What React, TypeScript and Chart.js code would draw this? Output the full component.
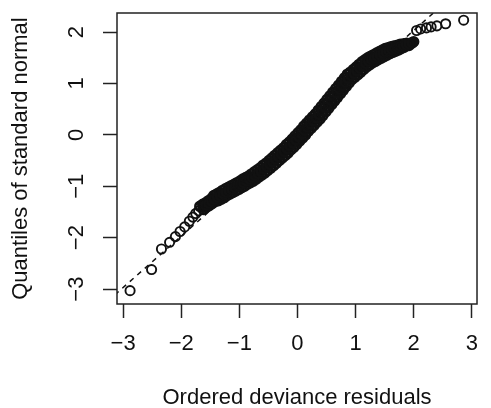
import React, { useEffect, useRef } from "react";
import { Chart, registerables } from "chart.js";

Chart.register(...registerables);

// ---- data ----
const xTickValues = [-3, -2, -1, 0, 1, 2, 3];
const yTickValues = [-3, -2, -1, 0, 1, 2];

const xTitle = "Ordered deviance residuals";
const yTitle = "Quantiles of standard normal";

// isolated circles in the lower tail
const lowerTailResiduals = [-2.88, -2.51, -2.34, -2.2, -2.1, -2.02, -1.94, -1.86, -1.8, -1.75, -1.7];
const lowerTailQuantiles = [-3.03, -2.62, -2.22, -2.09, -1.98, -1.88, -1.79, -1.68, -1.6, -1.53, -1.48];

// dense band of circles (upper-left and lower-right edges)
const bandResiduals = [
  -1.68, -1.62, -1.63, -1.57, -1.58, -1.52, -1.53, -1.47, -1.48, -1.42,
  -1.44, -1.36, -1.39, -1.31, -1.34, -1.26, -1.29, -1.21, -1.24, -1.16,
  -1.19, -1.11, -1.14, -1.06, -1.09, -1.01, -1.04, -0.96, -0.99, -0.91,
  -0.94, -0.86, -0.89, -0.81, -0.84, -0.76, -0.79, -0.71, -0.74, -0.66,
  -0.69, -0.61, -0.64, -0.56, -0.59, -0.51, -0.54, -0.46, -0.49, -0.41,
  -0.44, -0.36, -0.39, -0.31, -0.34, -0.26, -0.29, -0.21, -0.24, -0.16,
  -0.19, -0.11, -0.14, -0.06, -0.09, -0.01, -0.04, 0.04, 0.01, 0.09,
  0.06, 0.14, 0.11, 0.19, 0.16, 0.24, 0.21, 0.29, 0.26, 0.34,
  0.31, 0.39, 0.36, 0.44, 0.41, 0.49, 0.46, 0.54, 0.51, 0.59,
  0.56, 0.64, 0.61, 0.69, 0.66, 0.74, 0.71, 0.79, 0.76, 0.84,
  0.81, 0.89, 0.86, 0.94, 0.91, 0.99, 0.96, 1.04, 1.01, 1.09,
  1.06, 1.14, 1.11, 1.19, 1.16, 1.24, 1.21, 1.29, 1.26, 1.34,
  1.31, 1.39, 1.36, 1.44, 1.41, 1.49, 1.46, 1.54, 1.51, 1.59,
  1.56, 1.64, 1.61, 1.69, 1.66, 1.74, 1.72, 1.78, 1.77, 1.83,
  1.83, 1.87, 1.88, 1.92, 1.95, 2.0,
];
const bandQuantiles = [
  -1.39, -1.45, -1.35, -1.41, -1.32, -1.38, -1.28, -1.34, -1.24, -1.3,
  -1.18, -1.28, -1.15, -1.25, -1.12, -1.22, -1.08, -1.18, -1.05, -1.15,
  -1.02, -1.12, -0.99, -1.09, -0.96, -1.06, -0.93, -1.03, -0.9, -1.0,
  -0.86, -0.96, -0.83, -0.93, -0.8, -0.9, -0.76, -0.86, -0.72, -0.82,
  -0.68, -0.78, -0.64, -0.74, -0.59, -0.69, -0.55, -0.65, -0.5, -0.6,
  -0.45, -0.55, -0.4, -0.5, -0.35, -0.45, -0.3, -0.4, -0.25, -0.35,
  -0.19, -0.29, -0.14, -0.24, -0.08, -0.18, -0.02, -0.12, 0.04, -0.06,
  0.1, 0.0, 0.17, 0.07, 0.23, 0.13, 0.29, 0.19, 0.35, 0.25,
  0.41, 0.31, 0.48, 0.38, 0.55, 0.45, 0.62, 0.52, 0.69, 0.59,
  0.76, 0.66, 0.83, 0.73, 0.9, 0.8, 0.97, 0.87, 1.04, 0.94,
  1.11, 1.01, 1.18, 1.08, 1.22, 1.12, 1.27, 1.17, 1.32, 1.22,
  1.37, 1.27, 1.42, 1.32, 1.46, 1.36, 1.5, 1.4, 1.53, 1.43,
  1.56, 1.46, 1.59, 1.49, 1.62, 1.52, 1.65, 1.55, 1.68, 1.58,
  1.695, 1.605, 1.715, 1.625, 1.73, 1.65, 1.745, 1.675, 1.76, 1.7,
  1.77, 1.73, 1.78, 1.74, 1.78, 1.81,
];

// dense band of circles (middle of the band)
const bandMidResiduals = [
  -1.625, -1.575, -1.525, -1.475, -1.425, -1.375, -1.325, -1.275, -1.225, -1.175,
  -1.125, -1.075, -1.025, -0.975, -0.925, -0.875, -0.825, -0.775, -0.725, -0.675,
  -0.625, -0.575, -0.525, -0.475, -0.425, -0.375, -0.325, -0.275, -0.225, -0.175,
  -0.125, -0.075, -0.025, 0.025, 0.075, 0.125, 0.175, 0.225, 0.275, 0.325,
  0.375, 0.425, 0.475, 0.525, 0.575, 0.625, 0.675, 0.725, 0.775, 0.825,
  0.875, 0.925, 0.975, 1.025, 1.075, 1.125, 1.175, 1.225, 1.275, 1.325,
  1.375, 1.425, 1.475, 1.525, 1.575, 1.625, 1.675, 1.725, 1.775, 1.825,
  1.875, 1.925, 1.975,
];
const bandMidQuantiles = [
  -1.4, -1.365, -1.33, -1.29, -1.25, -1.215, -1.185, -1.15, -1.115, -1.085,
  -1.055, -1.025, -0.995, -0.965, -0.93, -0.895, -0.865, -0.83, -0.79, -0.75,
  -0.71, -0.665, -0.62, -0.575, -0.525, -0.475, -0.425, -0.375, -0.325, -0.27,
  -0.215, -0.16, -0.1, -0.04, 0.02, 0.085, 0.15, 0.21, 0.27, 0.33,
  0.395, 0.465, 0.535, 0.605, 0.675, 0.745, 0.815, 0.885, 0.955, 1.025,
  1.095, 1.15, 1.195, 1.245, 1.295, 1.345, 1.39, 1.43, 1.465, 1.495,
  1.525, 1.555, 1.585, 1.615, 1.64, 1.66, 1.68, 1.7, 1.72, 1.74,
  1.755, 1.77, 1.79,
];

// isolated circles in the upper tail
const upperTailResiduals = [2.05, 2.12, 2.22, 2.3, 2.4, 2.55, 2.86];
const upperTailQuantiles = [2.03, 2.06, 2.08, 2.1, 2.12, 2.16, 2.23];

// dashed reference line (qqline) end points
const refLineX = [-3.4, 3.4];
const refLineY = [-3.37, 3.43];

// axis limits
const xRange = [-3.105, 3.09];
const yRange = [-3.29, 2.37];

const FONT = '"Liberation Sans", Arial, Helvetica, sans-serif';
const fmt = (v: number) => String(v).replace("-", "\u2212");

const framePlugin = {
  id: "rframe",
  afterDraw(chart: any) {
    const { ctx, chartArea: a, scales } = chart;
    ctx.save();
    ctx.strokeStyle = "#222";
    ctx.lineWidth = 1.5;
    ctx.strokeRect(a.left, a.top, a.right - a.left, a.bottom - a.top);
    const ys = scales.y;
    ctx.fillStyle = "#111";
    ctx.font = `22px ${FONT}`;
    ctx.textAlign = "center";
    ctx.textBaseline = "middle";
    ys.ticks.forEach((t: any) => {
      const py = ys.getPixelForValue(t.value);
      ctx.save();
      ctx.translate(77, py);
      ctx.rotate(-Math.PI / 2);
      ctx.fillText(fmt(t.value), 0, 0);
      ctx.restore();
    });
    ctx.restore();
  },
};

const toPoints = (xs: number[], ys: number[]) => xs.map((x, i) => ({ x, y: ys[i] }));

export default function App() {
  const ref = useRef<HTMLCanvasElement | null>(null);

  useEffect(() => {
    if (!ref.current) return;
    const tails = [
      ...toPoints(lowerTailResiduals, lowerTailQuantiles),
      ...toPoints(upperTailResiduals, upperTailQuantiles),
    ];
    const band = [
      ...toPoints(bandResiduals, bandQuantiles),
      ...toPoints(bandMidResiduals, bandMidQuantiles),
    ];
    const circle = {
      pointStyle: "circle",
      borderColor: "#111",
      backgroundColor: "rgba(0,0,0,0)",
      pointBackgroundColor: "rgba(0,0,0,0)",
      pointBorderColor: "#111",
    };

    const chart = new Chart(ref.current, {
      type: "scatter",
      data: {
        datasets: [
          {
            type: "line",
            data: toPoints(refLineX, refLineY),
            borderColor: "#111",
            borderWidth: 1.5,
            borderDash: [5, 5],
            pointRadius: 0,
            fill: false,
            showLine: true,
          } as any,
          { ...circle, data: tails, pointRadius: 4.6, pointBorderWidth: 1.9 } as any,
          { ...circle, data: band, pointRadius: 4.4, pointBorderWidth: 2.7 } as any,
        ],
      },
      options: {
        responsive: false,
        animation: false,
        events: [],
        layout: { padding: { left: 0, right: 1, top: 13, bottom: 0 } },
        plugins: { legend: { display: false }, tooltip: { enabled: false } },
        scales: {
          x: {
            type: "linear",
            position: "bottom",
            min: xRange[0],
            max: xRange[1],
            afterBuildTicks: (s: any) => {
              s.ticks = xTickValues.map((v) => ({ value: v }));
            },
            afterFit: (s: any) => {
              s.height = 104;
            },
            grid: {
              drawOnChartArea: false,
              drawTicks: true,
              tickLength: 14,
              tickWidth: 1.5,
              tickColor: "#222",
            },
            border: { display: false },
            ticks: {
              autoSkip: false,
              maxRotation: 0,
              padding: 13,
              color: "#111",
              font: { family: FONT, size: 22 },
              callback: (v: any) => fmt(Number(v)),
            },
            title: {
              display: true,
              text: xTitle,
              color: "#111",
              font: { family: FONT, size: 22, lineHeight: 0.9 },
              padding: { top: 0, bottom: 0 },
            },
          },
          y: {
            type: "linear",
            position: "left",
            min: yRange[0],
            max: yRange[1],
            afterBuildTicks: (s: any) => {
              s.ticks = yTickValues.map((v) => ({ value: v }));
            },
            afterFit: (s: any) => {
              s.width = 117;
            },
            grid: {
              drawOnChartArea: false,
              drawTicks: true,
              tickLength: 14,
              tickWidth: 1.5,
              tickColor: "#222",
            },
            border: { display: false },
            ticks: { display: false },
            title: {
              display: true,
              text: yTitle,
              color: "#111",
              font: { family: FONT, size: 22, lineHeight: 1 },
              padding: { top: 10, bottom: 0 },
            },
          },
        },
      },
      plugins: [framePlugin],
    });
    return () => chart.destroy();
  }, []);

  return (
    <div style={{ position: "absolute", left: 0, top: 0, width: 491, height: 408, background: "#fff" }}>
      <canvas ref={ref} width={491} height={408} style={{ display: "block" }} />
    </div>
  );
}
